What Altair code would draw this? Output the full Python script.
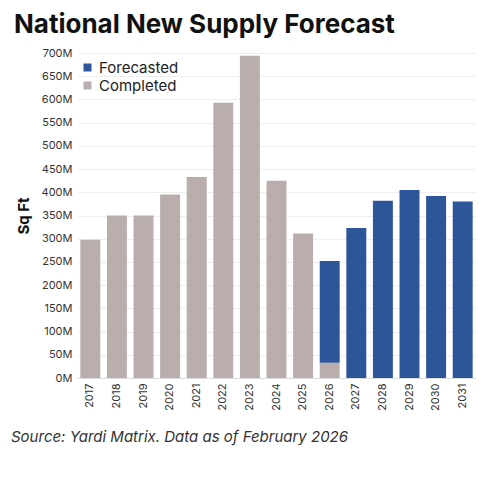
import altair as alt
import pandas as pd

years = [str(y) for y in range(2017, 2032)]
completed = [298, 350, 350, 395, 433, 593, 694, 425, 311, 33, 0, 0, 0, 0, 0]
forecasted = [0, 0, 0, 0, 0, 0, 0, 0, 0, 219, 323, 382, 405, 392, 380]

rows = []
for y, c, f in zip(years, completed, forecasted):
    rows.append({"year": y, "kind": "Completed", "value": c, "ord": 0})
    rows.append({"year": y, "kind": "Forecasted", "value": f, "ord": 1})
df = pd.DataFrame(rows)

source_note = pd.DataFrame({"note": ["Source: Yardi Matrix. Data as of February 2026"]})

FONT = "Inter"

bars = alt.Chart(df).mark_bar().encode(
    x=alt.X("year:N", title=None,
            scale=alt.Scale(paddingInner=0.25, paddingOuter=0.125),
            axis=alt.Axis(labelAngle=270, labelFontSize=11, labelColor="#333",
                          labelPadding=5, ticks=False, domainColor="#ddd",
                          labelFont=FONT)),
    y=alt.Y("value:Q", title="Sq Ft", stack="zero",
            scale=alt.Scale(domain=[0, 700], nice=False),
            axis=alt.Axis(values=list(range(0, 701, 50)), labelExpr="datum.value + 'M'",
                          labelFontSize=11, labelColor="#333", labelFont=FONT,
                          ticks=False, domain=False, gridColor="#eee",
                          labelPadding=5, titleFontSize=15, titleFont=FONT,
                          titleFontWeight="bold", titleColor="#111", titlePadding=10)),
    color=alt.Color("kind:N",
                    scale=alt.Scale(domain=["Forecasted", "Completed"],
                                    range=["#2d5599", "#b9aeab"]),
                    legend=alt.Legend(title=None, orient="none", legendX=3, legendY=7,
                                      labelFontSize=15, labelFont=FONT, labelColor="#222",
                                      symbolType="square", symbolSize=64,
                                      symbolStrokeWidth=0, rowPadding=2, padding=0)),
    order=alt.Order("ord:Q"),
)

note = alt.Chart(source_note).mark_text(
    align="left", baseline="middle", fontSize=15, fontStyle="italic",
    font=FONT, color="#333"
).encode(x=alt.value(-66), y=alt.value(384), text="note:N")

chart = alt.layer(bars, note).properties(
    width=399,
    height=325,
    autosize=alt.AutoSizeParams(type="none"),
    padding={"left": 69, "top": 45, "right": 5, "bottom": 90},
    title=alt.TitleParams("National New Supply Forecast", anchor="start", frame="group",
                          dx=-63, offset=9, fontSize=26, font=FONT, fontWeight="bold",
                          color="#111"),
).configure_view(stroke=None)

chart.save("out.html", embed_options={"renderer": "svg", "actions": False})
